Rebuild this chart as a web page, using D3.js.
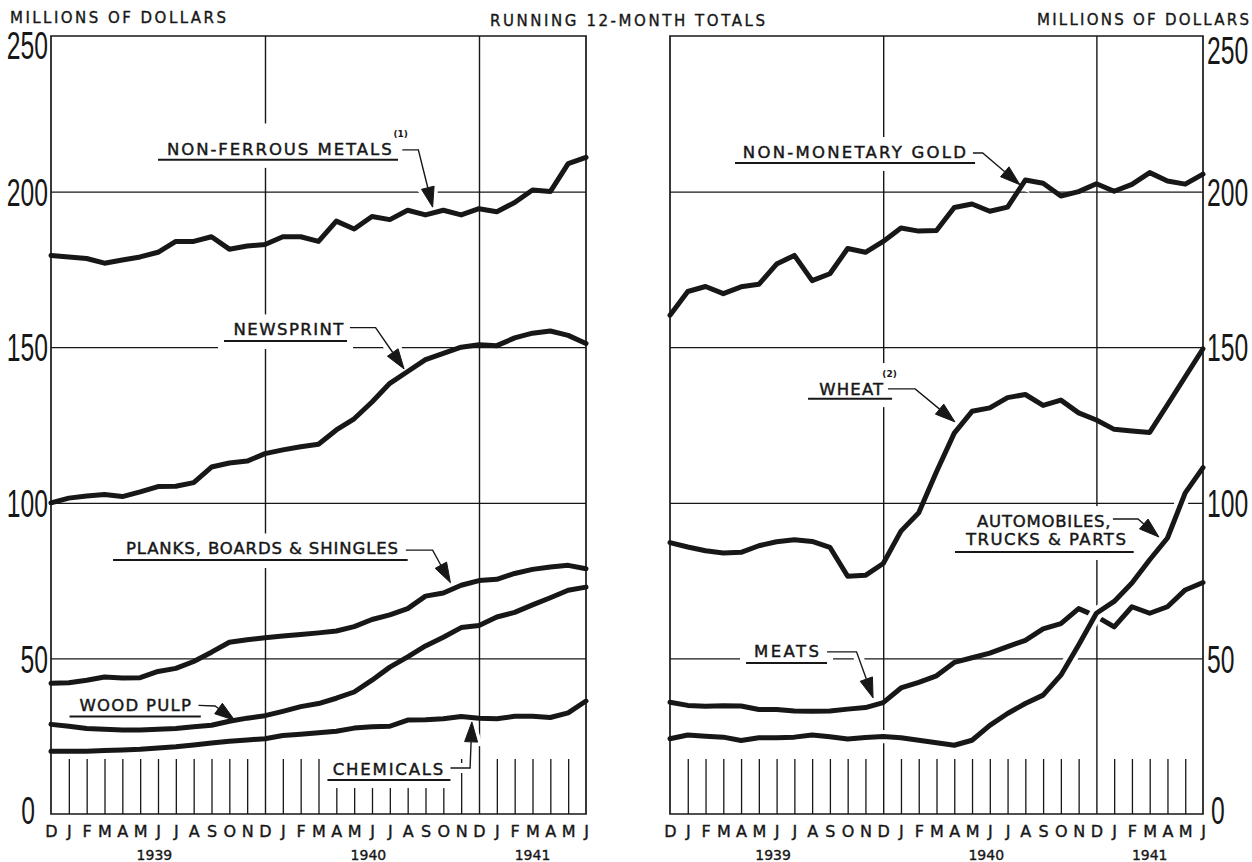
<!DOCTYPE html>
<html lang="en">
<head>
<meta charset="UTF-8" />
<title>running 12-month totals</title>
<script src="https://cdn.jsdelivr.net/npm/d3@7/dist/d3.min.js"></script>
<style>
  body { margin: 0; background: #fff; }
  svg { display: block; }
</style>
</head>
<body>
<div id="wrapper"></div>
<script>
// months Dec 1938 .. Jun 1941
const months = ["D","J","F","M","A","M","J","J","A","S","O","N",
                "D","J","F","M","A","M","J","J","A","S","O","N",
                "D","J","F","M","A","M","J"];
const years = [{ label: "1939", at: 5.8 }, { label: "1940", at: 17.8 }, { label: "1941", at: 27 }];
const yTicks = [0, 50, 100, 150, 200, 250];
const gridValues = [50, 100, 150, 200];
const yearLines = [12, 24];

// left panel, millions of dollars
const nonFerrous = [179.5, 179, 178.5, 177, 178, 179, 180.5, 184, 184, 185.5, 181.5, 182.5, 183, 185.5, 185.5, 184,
  190.5, 188, 192, 191, 194, 192.5, 194, 192.5, 194.5, 193.5, 196.5, 200.5, 200, 209, 211];
const newsprint = [100, 101.5, 102.2, 102.7, 102, 103.5, 105.2, 105.3, 106.5, 111.5, 112.8, 113.4, 115.8, 117, 118, 118.8,
  123.4, 127, 132.4, 138.4, 142.2, 146, 148, 150, 150.8, 150.5, 153, 154.5, 155.2, 153.8, 151.2];
const planks = [42, 42.2, 43, 44, 43.7, 43.8, 45.8, 46.8, 49, 52, 55.2, 56, 56.6, 57.2, 57.7, 58.2,
  58.8, 60.2, 62.5, 64, 66, 70, 71, 73.5, 75, 75.4, 77.3, 78.6, 79.4, 79.9, 78.8];
const woodPulp = [28.8, 28.2, 27.5, 27.2, 27, 27, 27.2, 27.5, 28, 28.5, 29.8, 30.8, 31.6, 33, 34.5, 35.5,
  37.2, 39.2, 43, 47.2, 50.5, 54, 56.8, 59.9, 60.6, 63.3, 64.8, 67.2, 69.5, 71.9, 72.9];
const chemicals = [20.2, 20.2, 20.2, 20.4, 20.6, 20.8, 21.2, 21.6, 22.2, 22.8, 23.4, 23.8, 24.2, 25.2, 25.6, 26.1,
  26.6, 27.6, 28, 28.2, 30.2, 30.3, 30.6, 31.3, 30.8, 30.6, 31.4, 31.4, 31, 32.5, 36.3];

// right panel
const gold = [160.3, 167.9, 169.5, 167.2, 169.4, 170.2, 176.7, 179.5, 171.4, 173.6, 181.7, 180.5, 184, 188.3, 187.3, 187.5,
  194.9, 196, 193.7, 195, 203.7, 202.7, 198.6, 200, 202.5, 200.1, 202.3, 206.1, 203.4, 202.4, 205.6];
const wheat = [87.2, 85.8, 84.6, 83.9, 84.1, 86.2, 87.5, 88.1, 87.6, 85.7, 76.4, 76.7, 80.5, 90.9, 96.8, 110,
  122.4, 129.4, 130.5, 133.8, 134.8, 131.3, 133, 128.9, 126.6, 123.6, 123.1, 122.6, 131.5, 140.5, 149.5];
const meats = [35.9, 34.9, 34.6, 34.8, 34.7, 33.6, 33.6, 33.1, 33, 33.1, 33.7, 34.2, 35.8, 40.5, 42.3, 44.4,
  48.7, 50.2, 51.7, 53.8, 55.8, 59.5, 61.2, 66, 63.5, 60.1, 66.6, 64.5, 66.6, 72, 74.4];
const autos = [24.2, 25.4, 25, 24.7, 23.6, 24.5, 24.5, 24.7, 25.4, 24.8, 24.1, 24.6, 24.9, 24.5, 23.7, 22.9,
  22.1, 23.7, 28.5, 32.3, 35.5, 38.2, 44.6, 54.3, 64.5, 68.3, 74.2, 81.7, 88.7, 103.2, 111.3];

// labels placed in chart units: [month index, value]
const leftNotes = [
  { lines: [{ text: "NON-FERROUS METALS", from: 6.5, to: 19.1, at: 211.8 }], sup: { text: "(1)", at: [19.2, 217.4] },
    under: [6.0, 19.46, 210.2], leader: [[19.7, 213.4], [20.6, 213.4], [21.4, 195]] },
  { lines: [{ text: "NEWSPRINT", from: 10.23, to: 16.4, at: 153.8 }],
    under: [9.7, 16.6, 152], leader: [[16.76, 156.3], [18.2, 156.3], [19.8, 143]] },
  { lines: [{ text: "PLANKS, BOARDS & SHINGLES", from: 4.2, to: 19.46, at: 83.4 }],
    under: [3.48, 20, 81.6], leader: [[19.9, 84.8], [21.4, 84.8], [22.4, 74.3]] },
  { lines: [{ text: "WOOD PULP", from: 1.6, to: 7.85, at: 33.1 }],
    under: [1.04, 8.4, 31.3], leader: [[8.27, 34.9], [9.2, 34.7], [10.3, 30.1]] },
  { lines: [{ text: "CHEMICALS", from: 15.8, to: 22.0, at: 12.5 }],
    under: [15.5, 22.4, 10.9], leader: [[22.4, 14.8], [23.5, 14.8], [23.6, 29.6]] }
];
const rightNotes = [
  { lines: [{ text: "NON-MONETARY GOLD", from: 4.1, to: 16.66, at: 210.8 }],
    under: [3.66, 17.17, 209.2], leader: [[17.05, 212.4], [17.6, 212.4], [19.7, 202.2]] },
  { lines: [{ text: "WHEAT", from: 8.4, to: 12.0, at: 134.6 }], sup: { text: "(2)", at: [11.95, 140.4] },
    under: [7.77, 12.5, 133.4], leader: [[12.27, 136.6], [13.8, 136.6], [16.04, 126]] },
  { lines: [{ text: "AUTOMOBILES,", from: 17.28, to: 24.8, at: 92.2 },
            { text: "TRUCKS & PARTS", from: 16.66, to: 25.66, at: 86.4 }],
    under: [16.04, 26.1, 84.2], leader: [[24.93, 94.8], [26.34, 94.8], [27.52, 89]] },
  { lines: [{ text: "MEATS", from: 4.73, to: 8.39, at: 50.4 }],
    under: [4.28, 8.84, 48.5], leader: [[8.84, 52.1], [10.5, 52.1], [11.43, 37.3]] }
];

const width = 1252, height = 862;
const ink = "#171717";
const labelFont = "'DejaVu Sans', Verdana, sans-serif";

const svg = d3.select("#wrapper").append("svg").attr("width", width).attr("height", height);
svg.append("rect").attr("width", width).attr("height", height).attr("fill", "#fff");

const yScale = d3.scaleLinear().domain([0, 250]).range([814, 36]);

const panels = [
  { left: 51, right: 586, side: "left", notes: leftNotes,
    series: [{ values: nonFerrous }, { values: newsprint }, { values: planks }, { values: woodPulp }, { values: chemicals }] },
  { left: 670, right: 1203, side: "right", notes: rightNotes,
    series: [{ values: gold }, { values: wheat }, { values: meats }, { values: autos, halo: true }] }
];

const titles = [
  { text: "MILLIONS OF DOLLARS", x: 10, y: 23, w: 216 },
  { text: "RUNNING 12-MONTH TOTALS", x: 490, y: 26, w: 275 },
  { text: "MILLIONS OF DOLLARS", x: 1037, y: 25, w: 212 }
];
svg.selectAll(".title").data(titles).join("text")
  .attr("x", d => d.x).attr("y", d => d.y)
  .attr("textLength", d => d.w).attr("lengthAdjust", "spacing")
  .attr("font-family", labelFont).attr("font-size", 15)
  .attr("fill", ink).attr("stroke", ink).attr("stroke-width", 0.35)
  .text(d => d.text);

function arrowParts(pts) {
  const tip = pts[pts.length - 1], prev = pts[pts.length - 2];
  const a = Math.atan2(tip[1] - prev[1], tip[0] - prev[0]);
  const len = 20, half = 6.5;
  const bx = tip[0] - len * Math.cos(a), by = tip[1] - len * Math.sin(a);
  const nx = -Math.sin(a) * half, ny = Math.cos(a) * half;
  return {
    shaft: pts.slice(0, -1).concat([[bx, by]]),
    head: [[bx + nx, by + ny], tip, [bx - nx, by - ny]]
  };
}

function drawNote(note, x, knock, layer) {
  const px = d => [x(d[0]), yScale(d[1])];
  const box = layer.append("g")
    .attr("font-family", labelFont).attr("fill", ink);
  note.lines.forEach(l => {
    box.append("text")
      .attr("x", x(l.from)).attr("y", yScale(l.at))
      .attr("textLength", x(l.to) - x(l.from)).attr("lengthAdjust", "spacing")
      .attr("font-size", 16.5).attr("stroke", ink).attr("stroke-width", 0.45)
      .text(l.text);
  });
  if (note.sup) {
    box.append("text")
      .attr("x", x(note.sup.at[0])).attr("y", yScale(note.sup.at[1]))
      .attr("font-size", 9).attr("font-weight", "bold")
      .text(note.sup.text);
  }
  box.append("line")
    .attr("x1", x(note.under[0])).attr("x2", x(note.under[1]))
    .attr("y1", yScale(note.under[2])).attr("y2", yScale(note.under[2]))
    .attr("stroke", ink).attr("stroke-width", 2);

  // white box behind the label breaks the grid lines, as in the print
  const bb = box.node().getBBox();
  knock.append("rect")
    .attr("x", bb.x - 6).attr("y", bb.y - 6)
    .attr("width", bb.width + 12).attr("height", bb.height + 14)
    .attr("fill", "#fff");

  const pts = note.leader.map(px);
  const arrow = arrowParts(pts);
  knock.append("path").attr("d", d3.line()(pts))
    .attr("fill", "none").attr("stroke", "#fff").attr("stroke-width", 10);
  knock.append("path").attr("d", d3.line()(arrow.head) + "Z")
    .attr("fill", "#fff").attr("stroke", "#fff").attr("stroke-width", 8);
  layer.append("path").attr("d", d3.line()(arrow.shaft))
    .attr("fill", "none").attr("stroke", ink).attr("stroke-width", 1.4);
  layer.append("path").attr("d", d3.line()(arrow.head) + "Z")
    .attr("fill", ink).attr("stroke", ink).attr("stroke-width", 1).attr("stroke-linejoin", "round");
}

function drawPanel(p) {
  const x = d3.scaleLinear().domain([0, months.length - 1]).range([p.left, p.right]);
  const base = yScale(0), top = yScale(250);
  const root = svg.append("g");
  const gridLayer = root.append("g");
  const knockLayer = root.append("g");
  const lineLayer = root.append("g");
  const noteLayer = root.append("g");

  // horizontal grid
  gridLayer.append("g").attr("transform", `translate(${p.left},0)`)
    .call(d3.axisLeft(yScale).tickValues(gridValues).tickSize(-(p.right - p.left)).tickFormat(""))
    .call(g => g.select(".domain").remove())
    .attr("color", ink)
    .selectAll("line").attr("stroke-width", 1.3);

  // december lines
  gridLayer.append("g").attr("transform", `translate(0,${base})`)
    .call(d3.axisBottom(x).tickValues(yearLines).tickSize(-(base - top)).tickFormat(""))
    .call(g => g.select(".domain").remove())
    .attr("color", ink)
    .selectAll("line").attr("stroke-width", 1.4);

  // month ticks
  const tickIdx = d3.range(1, months.length - 1).filter(i => !yearLines.includes(i));
  gridLayer.append("g").attr("transform", `translate(0,${base})`)
    .call(d3.axisTop(x).tickValues(tickIdx).tickSize(55).tickFormat(""))
    .call(g => g.select(".domain").remove())
    .attr("color", ink)
    .selectAll("line").attr("stroke-width", 1.3);

  // month letters
  root.append("g").attr("transform", `translate(0,${base})`)
    .call(d3.axisBottom(x).tickValues(d3.range(months.length)).tickFormat(i => months[i]).tickSize(0).tickPadding(12))
    .call(g => g.select(".domain").remove())
    .attr("color", ink)
    .attr("font-family", labelFont).attr("font-size", 16)
    .selectAll("text").attr("stroke", ink).attr("stroke-width", 0.4);

  root.selectAll(null).data(years).join("text")
    .attr("x", d => x(d.at)).attr("y", 860)
    .attr("text-anchor", "middle")
    .attr("font-family", labelFont).attr("font-size", 14)
    .attr("fill", ink).attr("stroke", ink).attr("stroke-width", 0.35)
    .text(d => d.label);

  // value labels
  const isLeft = p.side === "left";
  const yAxis = isLeft ? d3.axisLeft(yScale) : d3.axisRight(yScale);
  const yAxisG = root.append("g")
    .attr("transform", `translate(${isLeft ? p.left - 3 : p.right + 4},0)`)
    .call(yAxis.tickValues(yTicks).tickSize(0).tickPadding(0))
    .call(g => g.select(".domain").remove())
    .attr("color", ink);
  yAxisG.selectAll("text")
    .attr("font-family", "'Liberation Sans', Arial, sans-serif")
    .attr("font-size", 38)
    .attr("x", d => (d === 0 ? (isLeft ? -13 : 4) : 0) / 0.65)
    .attr("dy", d => d === 250 ? (isLeft ? "0.6em" : "0.72em") : d === 0 ? "0.26em" : "0.36em")
    .attr("transform", "scale(0.65,1)");

  p.notes.forEach(n => drawNote(n, x, knockLayer, noteLayer));

  const line = d3.line().x((d, i) => x(i)).y(d => yScale(d));
  p.series.forEach(s => {
    if (s.halo) {
      lineLayer.append("path").attr("d", line(s.values))
        .attr("fill", "none").attr("stroke", "#fff").attr("stroke-width", 13);
    }
    lineLayer.append("path").attr("d", line(s.values))
      .attr("fill", "none").attr("stroke", ink).attr("stroke-width", 5)
      .attr("stroke-linejoin", "round").attr("stroke-linecap", "round");
  });

  // frame
  root.append("path")
    .attr("d", `M${p.left},${base}V${top}H${p.right}V${base}Z`)
    .attr("fill", "none").attr("stroke", ink).attr("stroke-width", 1.7);
}

panels.forEach(drawPanel);
</script>
</body>
</html>
